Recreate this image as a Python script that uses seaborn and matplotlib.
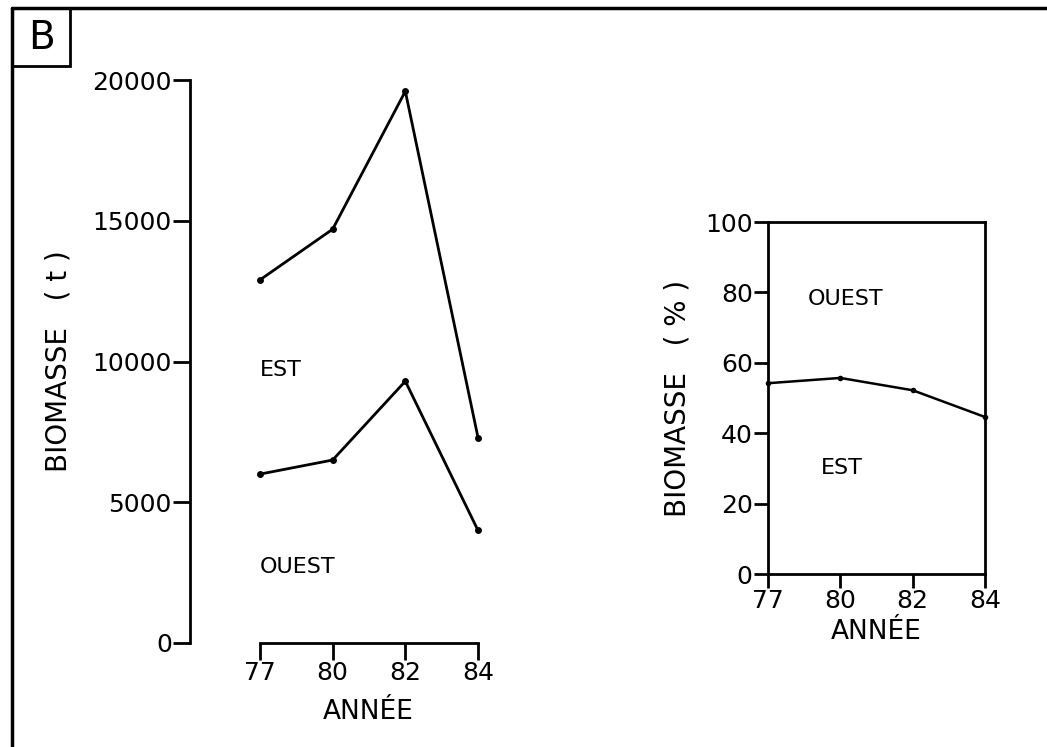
import pandas as pd
import matplotlib.pyplot as plt
import seaborn as sns
from matplotlib.lines import Line2D
from matplotlib.patches import Rectangle

# values
annees = ['77', '80', '82', '84']
biomasse_totale = [12900, 14700, 19600, 7300]   # upper curve (t)
biomasse_ouest = [6000, 6500, 9300, 4000]       # lower curve (t)
part_est = [54.2, 55.7, 52.2, 44.6]             # right panel (%)
ticks_t = [0, 5000, 10000, 15000, 20000]
ticks_pct = [0, 20, 40, 60, 80, 100]

df = pd.DataFrame({'annee': annees, 'total': biomasse_totale,
                   'ouest': biomasse_ouest, 'est_pct': part_est})

sns.set_style('white')
plt.rcParams['font.family'] = ['DejaVu Sans']
plt.rcParams['axes.linewidth'] = 2
plt.rcParams['axes.edgecolor'] = 'black'
plt.rcParams['text.color'] = 'black'
plt.rcParams['axes.labelcolor'] = 'black'

fig = plt.figure(figsize=(10.47, 7.47), dpi=100)

# frame of the scanned figure: top and left edges only
fig.add_artist(Line2D([12 / 1047, 1.0], [1 - 8 / 747, 1 - 8 / 747], color='black', lw=2.5))
fig.add_artist(Line2D([12 / 1047, 12 / 1047], [0, 1 - 8 / 747], color='black', lw=2.5))
fig.add_artist(Rectangle((12 / 1047, 1 - 66 / 747), 58 / 1047, 58 / 747, fill=False,
                         lw=2, ec='black', transform=fig.transFigure))
fig.text(41 / 1047, 1 - 38 / 747, 'B', fontsize=28, ha='center', va='center')

# Panel left: biomass in tonnes
ax1 = fig.add_axes([190 / 1047, 104 / 747, 288 / 1047, 563 / 747])
sns.lineplot(data=df, x='annee', y='total', ax=ax1, color='black', lw=2,
             marker='o', markersize=5, markeredgewidth=0, clip_on=False)
sns.lineplot(data=df, x='annee', y='ouest', ax=ax1, color='black', lw=2,
             marker='o', markersize=5, markeredgewidth=0, clip_on=False)
ax1.set_xlim(-0.963, 3.0)
ax1.set_ylim(0, 20000)
ax1.set_yticks(ticks_t)
ax1.set_yticklabels([str(t) for t in ticks_t])
sns.despine(ax=ax1)
ax1.spines['bottom'].set_bounds(0, 3)
ax1.tick_params(axis='both', direction='out', length=12, width=2, pad=1,
                labelsize=18, colors='black', left=True, bottom=True)
ax1.set_xlabel('ANNÉE', fontsize=19)
ax1.xaxis.set_label_coords(0.62, -0.1)
ax1.set_ylabel('BIOMASSE   ( t )', fontsize=20, labelpad=14)
ax1.text(0.0, 9700, 'EST', fontsize=16, ha='left', va='center')
ax1.text(0.0, 2700, 'OUEST', fontsize=16, ha='left', va='center')

# Panel right: share of biomass in %
ax2 = fig.add_axes([768 / 1047, 173 / 747, 217 / 1047, 352 / 747])
sns.lineplot(data=df, x='annee', y='est_pct', ax=ax2, color='black', lw=1.8,
             marker='o', markersize=4, markeredgewidth=0, clip_on=False)
ax2.set_xlim(0, 3)
ax2.set_ylim(0, 100)
ax2.set_yticks(ticks_pct)
ax2.set_yticklabels([str(t) for t in ticks_pct])
ax2.tick_params(axis='both', direction='out', length=10, width=2, pad=1,
                labelsize=18, colors='black', left=True, bottom=True)
ax2.set_xlabel('ANNÉE', fontsize=19, labelpad=4)
ax2.set_ylabel('BIOMASSE   ( % )', fontsize=20, labelpad=10)
ax2.text(0.55, 78, 'OUEST', fontsize=16, ha='left', va='center')
ax2.text(0.73, 30, 'EST', fontsize=16, ha='left', va='center')

fig.savefig('out.png', dpi=100)
